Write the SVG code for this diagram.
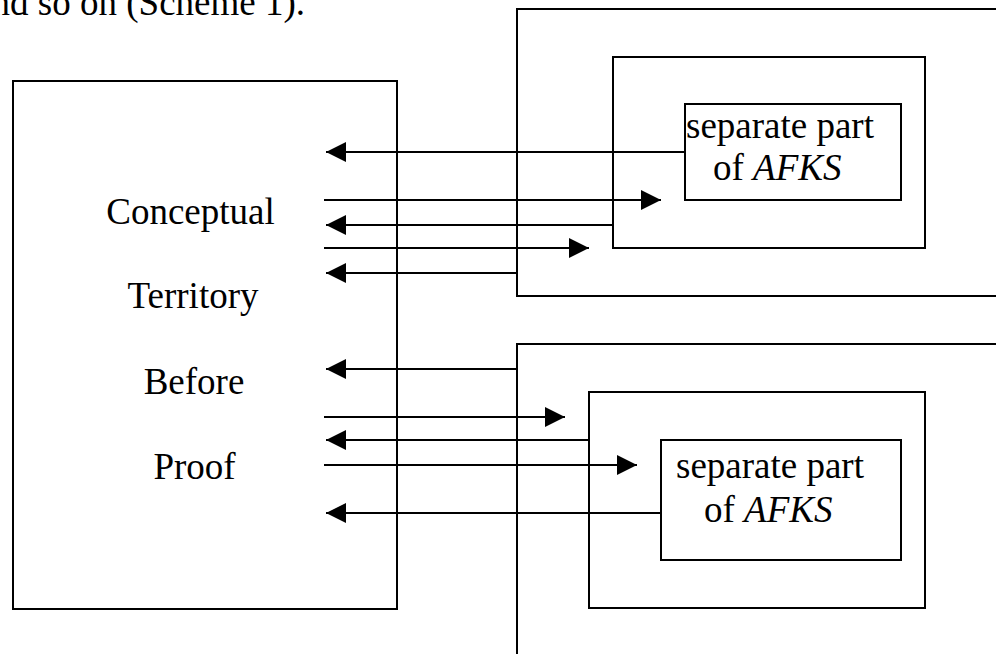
<svg xmlns="http://www.w3.org/2000/svg" width="996" height="654" viewBox="0 0 996 654">
<style>
.box{fill:none;stroke:#000;stroke-width:2}
.ln{fill:none;stroke:#000;stroke-width:2}
.t{font-family:"Liberation Serif","Times New Roman",serif;font-size:37px;fill:#000}
.i{font-style:italic}
</style>
<defs>
<marker id="ah" markerUnits="userSpaceOnUse" markerWidth="20" markerHeight="20" refX="20" refY="10" orient="auto">
<path d="M0,0 L20,10 L0,20 z" fill="#000"/>
</marker>
</defs>
<rect width="996" height="654" fill="#fff"/>
<text class="t" x="305" y="15" text-anchor="end">nd so on (Scheme 1).</text>
<g id="territory">
<rect class="box" x="13" y="81" width="384" height="528"/>
<text class="t" x="190.5" y="224" text-anchor="middle">Conceptual</text>
<text class="t" x="193" y="308" text-anchor="middle">Territory</text>
<text class="t" x="194" y="394" text-anchor="middle">Before</text>
<text class="t" x="194.5" y="479" text-anchor="middle">Proof</text>
</g>
<g id="upper-outer">
<path class="box" d="M997,9 L517,9 L517,296 L997,296"/>
</g>
<g id="upper-middle">
<rect class="box" x="613" y="57" width="312" height="191"/>
</g>
<g id="upper-inner">
<rect class="box" x="685" y="104" width="216" height="96"/>
<text class="t" x="686" y="138">separate part</text>
<text class="t" x="713" y="180">of <tspan class="i">AFKS</tspan></text>
</g>
<g id="lower-outer">
<path class="box" d="M997,344 L517,344 L517,655"/>
</g>
<g id="lower-middle">
<rect class="box" x="589" y="392" width="336" height="216"/>
</g>
<g id="lower-inner">
<rect class="box" x="661" y="440" width="240" height="120"/>
<text class="t" x="676" y="478">separate part</text>
<text class="t" x="704" y="522">of <tspan class="i">AFKS</tspan></text>
</g>
<g id="connectors">
<line class="ln" x1="685" y1="152" x2="326" y2="152" marker-end="url(#ah)"/>
<line class="ln" x1="324" y1="200" x2="661" y2="200" marker-end="url(#ah)"/>
<line class="ln" x1="613" y1="225" x2="326" y2="225" marker-end="url(#ah)"/>
<line class="ln" x1="324" y1="248" x2="589" y2="248" marker-end="url(#ah)"/>
<line class="ln" x1="517" y1="273" x2="326" y2="273" marker-end="url(#ah)"/>
<line class="ln" x1="517" y1="369" x2="326" y2="369" marker-end="url(#ah)"/>
<line class="ln" x1="324" y1="417" x2="565" y2="417" marker-end="url(#ah)"/>
<line class="ln" x1="589" y1="440" x2="326" y2="440" marker-end="url(#ah)"/>
<line class="ln" x1="324" y1="465" x2="637" y2="465" marker-end="url(#ah)"/>
<line class="ln" x1="661" y1="513" x2="326" y2="513" marker-end="url(#ah)"/>
</g>
</svg>
